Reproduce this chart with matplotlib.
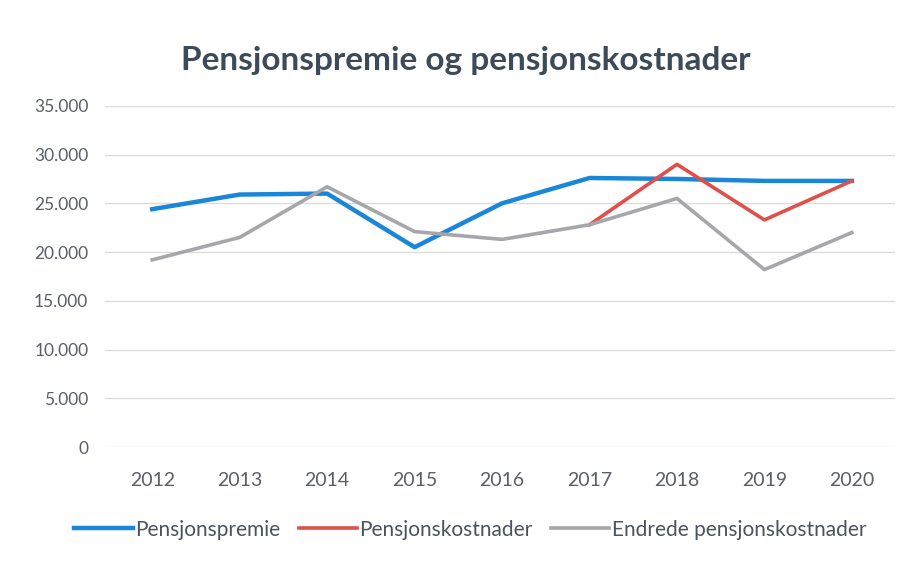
import matplotlib
matplotlib.use("Agg")
import matplotlib.pyplot as plt
import numpy as np

years = ["2012", "2013", "2014", "2015", "2016", "2017", "2018", "2019", "2020"]
pensjonspremie = [24400, 25900, 26000, 20500, 25000, 27600, 27500, 27300, 27300]
pensjonskostnader = [np.nan, np.nan, np.nan, np.nan, np.nan, 22800, 29000, 23300, 27300]
endrede = [19200, 21500, 26700, 22100, 21300, 22800, 25500, 18200, 22000]
yticks = [0, 5000, 10000, 15000, 20000, 25000, 30000, 35000]
ytick_labels = ["0", "5.000", "10.000", "15.000", "20.000", "25.000", "30.000", "35.000"]

plt.rcParams['font.family'] = ['Lato', 'DejaVu Sans']

fig = plt.figure(figsize=(9.13, 5.63), dpi=100)
ax = fig.add_axes([0.115, 0.206, 0.865, 0.606])

x = np.arange(len(years))
ax.plot(x, pensjonspremie, color="#1a86d8", lw=3.2, label="Pensjonspremie")
ax.plot(x, pensjonskostnader, color="#e0504a", lw=2.6, label="Pensjonskostnader")
ax.plot(x, endrede, color="#a6a6ab", lw=2.6, label="Endrede pensjonskostnader")

ax.set_xlim(-0.54, 8.49)
ax.set_ylim(0, 35000)
ax.set_yticks(yticks)
ax.set_yticklabels(ytick_labels)
ax.set_xticks(x)
ax.set_xticklabels(years)
ax.grid(axis="y", color="#dcdcdc", lw=1)
ax.set_axisbelow(True)
for s in ax.spines.values():
    s.set_visible(False)
ax.tick_params(axis="both", length=0, colors="#5a5f66")
ax.tick_params(axis="y", labelsize=12.5, pad=12)
ax.tick_params(axis="x", labelsize=14, pad=18)

fig.text(0.51, 0.893, "Pensjonspremie og pensjonskostnader", ha="center", va="center",
         fontsize=24, fontweight="bold", color="#3c4a5a")

leg = fig.legend(loc="center", bbox_to_anchor=(0.515, 0.059), ncol=3, frameon=False,
                 fontsize=15, handlelength=2.8, handletextpad=0.1, columnspacing=0.9)
for t in leg.get_texts():
    t.set_color("#4a5360")

fig.savefig("out.png", dpi=100, facecolor="white")
